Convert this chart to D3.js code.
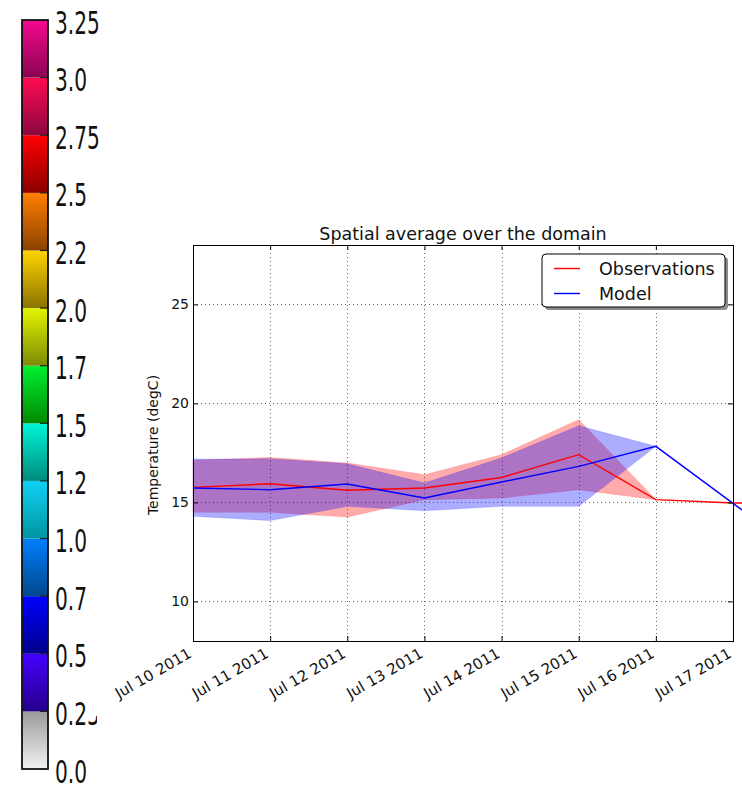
<!DOCTYPE html>
<html>
<head>
<meta charset="utf-8">
<script src="https://cdn.jsdelivr.net/npm/d3@7"></script>
<style>
  body { margin: 0; background: #fff; }
  svg { display: block; font-family: "DejaVu Sans", sans-serif; }
</style>
</head>
<body>
<div id="chart"></div>
<script>
// ---- data ----
const dates = ["2011-07-10", "2011-07-11", "2011-07-12", "2011-07-13", "2011-07-14",
  "2011-07-15", "2011-07-16", "2011-07-17", "2011-07-18"];

// observations (red): mean and spread band
const obs_mean = [15.76, 15.94, 15.61, 15.73, 16.26, 17.41, 15.14, 14.97, 14.96];
const obs_upper = [17.12, 17.27, 16.99, 16.40, 17.41, 19.18, 15.14, null, null];
const obs_lower = [14.50, 14.50, 14.26, 15.14, 15.22, 15.64, 15.14, null, null];

// model (blue): mean and spread band
const model_mean = [15.73, 15.64, 15.93, 15.22, 16.03, 16.82, 17.83, 14.95, 12.10];
const model_upper = [17.19, 17.20, 16.95, 15.98, 17.24, 18.87, 17.83, null, null];
const model_lower = [14.30, 14.08, 14.80, 14.58, 14.80, 14.80, 17.83, null, null];

const y_ticks = [10, 15, 20, 25];
const legend_labels = ["Observations", "Model"];

// colorbar (separate image on the left)
const cbar_levels = [0.0, 0.25, 0.5, 0.75, 1.0, 1.25, 1.5, 1.75, 2.0, 2.25, 2.5, 2.75, 3.0, 3.25];
const cbar_labels = ["0.0", "0.25", "0.5", "0.75", "1.0", "1.25", "1.5", "1.75", "2.0", "2.25", "2.5", "2.75", "3.0", "3.25"];
const cbar_top_colors = ["#9a9a9a", "#4400ff", "#0000ff", "#0080ff", "#10d0f5", "#00f5d8",
  "#00ee30", "#e2f500", "#ffd400", "#ff8000", "#ff0000", "#ff0a52", "#f5088e"];
const cbar_bottom_colors = ["#f2f2f2", "#25008b", "#00008b", "#00488b", "#00959e", "#008a7c",
  "#008a00", "#7d8a05", "#8b7300", "#8b4200", "#8b0000", "#8b0840", "#8a0552"];

const width = 742;
const height = 788;

const svg = d3.select("#chart")
  .append("svg")
  .attr("width", width)
  .attr("height", height);

const defs = svg.append("defs");

// ---------------- colorbar ----------------
function draw_colorbar() {
  const bar_x = 22;
  const bar_w = 26;
  const cy = d3.scaleLinear().domain([0, 3.25]).range([769, 20]);

  // one vertical gradient per segment
  cbar_top_colors.forEach((c, i) => {
    const g = defs.append("linearGradient")
      .attr("id", "cb" + i)
      .attr("x1", 0).attr("y1", 0).attr("x2", 0).attr("y2", 1);
    g.append("stop").attr("offset", "0%").attr("stop-color", c);
    g.append("stop").attr("offset", "100%").attr("stop-color", cbar_bottom_colors[i]);
  });

  const segs = d3.range(cbar_levels.length - 1);
  svg.append("g")
    .selectAll("rect")
    .data(segs)
    .enter()
    .append("rect")
    .attr("x", bar_x)
    .attr("y", i => cy(cbar_levels[i + 1]))
    .attr("width", bar_w)
    .attr("height", i => cy(cbar_levels[i]) - cy(cbar_levels[i + 1]))
    .attr("fill", i => "url(#cb" + i + ")");

  // small ticks on the right edge
  svg.append("g")
    .selectAll("line")
    .data(cbar_levels.slice(1, -1))
    .enter()
    .append("line")
    .attr("x1", bar_x + bar_w - 8)
    .attr("x2", bar_x + bar_w)
    .attr("y1", d => cy(d))
    .attr("y2", d => cy(d))
    .attr("stroke", "#222")
    .attr("stroke-width", 1.2);

  svg.append("rect")
    .attr("x", bar_x)
    .attr("y", cy(3.25))
    .attr("width", bar_w)
    .attr("height", cy(0) - cy(3.25))
    .attr("fill", "none")
    .attr("stroke", "#111")
    .attr("stroke-width", 1.8);

  // labels are cut off on the right in the original picture
  const clip = defs.append("clipPath").attr("id", "cbclip");
  clip.append("rect").attr("x", 0).attr("y", 0).attr("width", 106).attr("height", 170);
  clip.append("rect").attr("x", 0).attr("y", 170).attr("width", 87.5).attr("height", 546);
  clip.append("rect").attr("x", 0).attr("y", 716).attr("width", 97).attr("height", 80);

  svg.append("g")
    .attr("clip-path", "url(#cbclip)")
    .selectAll("text")
    .data(cbar_levels)
    .enter()
    .append("text")
    .attr("transform", d => "translate(55," + (cy(d) + 13.5) + ") scale(0.63,1)")
    .attr("font-size", 32)
    .attr("fill", "#111")
    .text((d, i) => cbar_labels[i]);
}

// ---------------- time series ----------------
function draw_series() {
  const left = 193, right = 733, top = 245, bottom = 641;
  const parse = d3.timeParse("%Y-%m-%d");
  const days = dates.map(parse);

  const x = d3.scaleTime()
    .domain([parse("2011-07-10"), parse("2011-07-17")])
    .range([left, right]);
  const y = d3.scaleLinear()
    .domain([8, 28])
    .range([bottom, top]);

  const x_ticks = d3.timeDay.range(parse("2011-07-10"), parse("2011-07-18"));

  // grid
  const grid = svg.append("g")
    .attr("stroke", "#444")
    .attr("stroke-width", 0.8)
    .attr("stroke-dasharray", "1,3");
  grid.selectAll("line.gx")
    .data(x_ticks.slice(1, -1))
    .enter()
    .append("line")
    .attr("x1", d => Math.round(x(d)) + 0.5)
    .attr("x2", d => Math.round(x(d)) + 0.5)
    .attr("y1", top)
    .attr("y2", bottom);
  grid.selectAll("line.gy")
    .data(y_ticks)
    .enter()
    .append("line")
    .attr("x1", left)
    .attr("x2", right)
    .attr("y1", d => Math.round(y(d)) + 0.5)
    .attr("y2", d => Math.round(y(d)) + 0.5);

  // spread bands
  const band = (up, lo) => d3.area()
    .defined((d, i) => up[i] != null)
    .x((d, i) => x(days[i]))
    .y0((d, i) => y(lo[i]))
    .y1((d, i) => y(up[i]));

  svg.append("path")
    .attr("d", band(obs_upper, obs_lower)(days))
    .attr("fill", "#ff0000")
    .attr("fill-opacity", 0.33)
    .attr("stroke", "#ff0000")
    .attr("stroke-opacity", 0.15);

  svg.append("path")
    .attr("d", band(model_upper, model_lower)(days))
    .attr("fill", "#0000ff")
    .attr("fill-opacity", 0.32)
    .attr("stroke", "#0000ff")
    .attr("stroke-opacity", 0.15);

  // mean lines
  const line = vals => d3.line()
    .x((d, i) => x(days[i]))
    .y((d, i) => y(vals[i]));

  svg.append("path")
    .attr("d", line(obs_mean)(days))
    .attr("fill", "none")
    .attr("stroke", "#ff0000")
    .attr("stroke-width", 1.4);

  svg.append("path")
    .attr("d", line(model_mean)(days))
    .attr("fill", "none")
    .attr("stroke", "#0000ff")
    .attr("stroke-width", 1.4);

  // axes with inward ticks
  const y_axis = svg.append("g")
    .attr("transform", "translate(" + left + ",0)")
    .call(d3.axisLeft(y).tickValues(y_ticks).tickSizeInner(-5).tickSizeOuter(0).tickPadding(4));
  const y_axis_r = svg.append("g")
    .attr("transform", "translate(" + right + ",0)")
    .call(d3.axisRight(y).tickValues(y_ticks).tickSizeInner(-5).tickSizeOuter(0).tickFormat(""));
  const x_axis = svg.append("g")
    .attr("transform", "translate(0," + bottom + ")")
    .call(d3.axisBottom(x).tickValues(x_ticks).tickSizeInner(-5).tickSizeOuter(0)
      .tickFormat(d3.timeFormat("%b %d %Y")));
  const x_axis_t = svg.append("g")
    .attr("transform", "translate(0," + top + ")")
    .call(d3.axisTop(x).tickValues(x_ticks).tickSizeInner(-5).tickSizeOuter(0).tickFormat(""));

  [y_axis, y_axis_r, x_axis, x_axis_t].forEach(a => {
    a.select(".domain").remove();
    a.selectAll("line").attr("stroke", "#000");
    a.selectAll("text")
      .attr("font-family", "DejaVu Sans, sans-serif")
      .attr("font-size", 14)
      .attr("fill", "#111");
  });

  // rotated date labels
  x_axis.selectAll(".tick text")
    .attr("x", 0)
    .attr("y", 0)
    .attr("dy", 0)
    .attr("font-size", 15)
    .attr("text-anchor", "end")
    .attr("transform", "translate(-1,15.5) rotate(-30)");

  // frame
  svg.append("rect")
    .attr("x", left + 0.5)
    .attr("y", top + 0.5)
    .attr("width", right - left)
    .attr("height", bottom - top)
    .attr("fill", "none")
    .attr("stroke", "#000")
    .attr("stroke-width", 1);

  // title and y label
  svg.append("text")
    .attr("x", (left + right) / 2)
    .attr("y", 240)
    .attr("text-anchor", "middle")
    .attr("font-size", 17.5)
    .attr("fill", "#111")
    .text("Spatial average over the domain");

  svg.append("text")
    .attr("transform", "translate(158," + ((top + bottom) / 2 + 2) + ") rotate(-90)")
    .attr("text-anchor", "middle")
    .attr("font-size", 14)
    .attr("fill", "#111")
    .text("Temperature (degC)");

  // legend
  const lg = svg.append("g").attr("transform", "translate(542,254)");
  lg.append("rect")
    .attr("x", 3).attr("y", 3)
    .attr("width", 183).attr("height", 53)
    .attr("rx", 4)
    .attr("fill", "#8c8c8c");
  lg.append("rect")
    .attr("width", 183).attr("height", 53)
    .attr("rx", 4)
    .attr("fill", "#fff")
    .attr("stroke", "#000")
    .attr("stroke-width", 1);

  const legend_colors = ["#ff0000", "#0000ff"];
  legend_labels.forEach((name, i) => {
    lg.append("line")
      .attr("x1", 12).attr("x2", 38)
      .attr("y1", 14.5 + i * 25).attr("y2", 14.5 + i * 25)
      .attr("stroke", legend_colors[i])
      .attr("stroke-width", 1.4);
    lg.append("text")
      .attr("x", 57)
      .attr("y", 20.5 + i * 25.5)
      .attr("font-size", 17.5)
      .attr("fill", "#111")
      .text(name);
  });
}

draw_colorbar();
draw_series();
</script>
</body>
</html>
